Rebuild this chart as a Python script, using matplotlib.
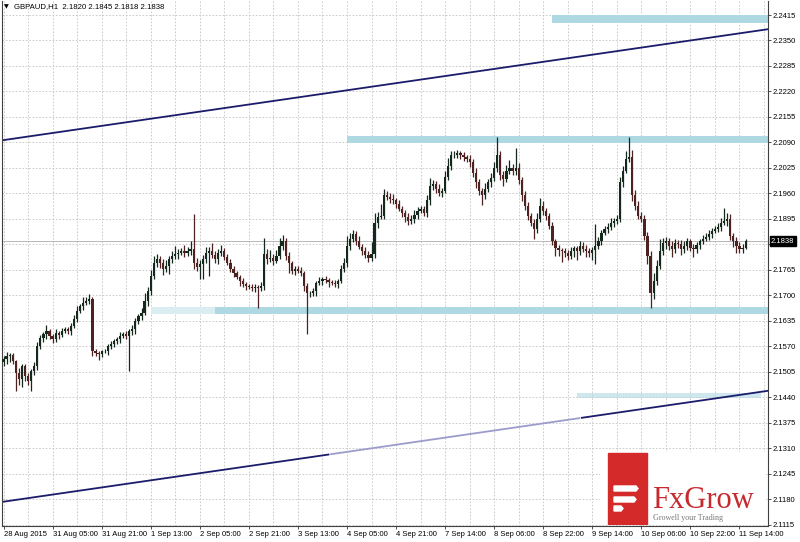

# GBPAUD H1 candlestick chart with channel and levels

import matplotlib.pyplot as plt
import matplotlib.patches as mpatches
import numpy as np

plt.rcParams['font.family'] = ['Liberation Sans', 'DejaVu Sans']

# hourly closes, 28 Aug 2015 -> 11 Sep 2015
first_open = 2.1530
closes = [
    2.1537, 2.1545, 2.1548, 2.1532, 2.1502, 2.1486, 2.1519, 2.1494, 2.1481, 2.1507,
    2.1519, 2.1570, 2.1591, 2.1601, 2.1609, 2.1596, 2.1588, 2.1604, 2.1598, 2.1609,
    2.1614, 2.1609, 2.1622, 2.1640, 2.1660, 2.1673, 2.1681, 2.1686, 2.1691, 2.1558,
    2.1553, 2.1550, 2.1558, 2.1558, 2.1570, 2.1576, 2.1583, 2.1588, 2.1596, 2.1601,
    2.1596, 2.1609, 2.1614, 2.1635, 2.1647, 2.1655, 2.1686, 2.1711, 2.1750, 2.1783,
    2.1793, 2.1783, 2.1768, 2.1775, 2.1793, 2.1801, 2.1806, 2.1809, 2.1814, 2.1809,
    2.1814, 2.1819, 2.1783, 2.1773, 2.1781, 2.1793, 2.1809, 2.1814, 2.1804, 2.1793,
    2.1809, 2.1814, 2.1799, 2.1783, 2.1768, 2.1757, 2.1747, 2.1737, 2.1729, 2.1724,
    2.1722, 2.1719, 2.1722, 2.1719, 2.1724, 2.1806, 2.1793, 2.1796, 2.1788, 2.1801,
    2.1827, 2.1839, 2.1801, 2.1783, 2.1763, 2.1768, 2.1763, 2.1757, 2.1724, 2.1706,
    2.1706, 2.1711, 2.1732, 2.1737, 2.1742, 2.1740, 2.1734, 2.1732, 2.1729, 2.1737,
    2.1768, 2.1783, 2.1827, 2.1845, 2.1857, 2.1839, 2.1824, 2.1814, 2.1804, 2.1796,
    2.1806, 2.1885, 2.1901, 2.1903, 2.1957, 2.1952, 2.1947, 2.1942, 2.1934, 2.1921,
    2.1911, 2.1901, 2.1890, 2.1896, 2.1906, 2.1916, 2.1921, 2.1911, 2.1942, 2.1980,
    2.1983, 2.1972, 2.1962, 2.1967, 2.2003, 2.2031, 2.2057, 2.2059, 2.2062, 2.2057,
    2.2052, 2.2049, 2.2039, 2.2013, 2.1988, 2.1967, 2.1955, 2.1972, 2.1988, 2.2000,
    2.2024, 2.2057, 2.2006, 2.1998, 2.2018, 2.2024, 2.2018, 2.2026, 2.1993, 2.1955,
    2.1929, 2.1903, 2.1885, 2.1870, 2.1896, 2.1929, 2.1916, 2.1903, 2.1878, 2.1839,
    2.1821, 2.1816, 2.1814, 2.1809, 2.1801, 2.1814, 2.1821, 2.1814, 2.1827, 2.1819,
    2.1814, 2.1809, 2.1816, 2.1827, 2.1839, 2.1860, 2.1870, 2.1875, 2.1885, 2.1890,
    2.1896, 2.1988, 2.2018, 2.2049, 2.2052, 2.1955, 2.1929, 2.1903, 2.1896, 2.1852,
    2.1801, 2.1706, 2.1737, 2.1775, 2.1814, 2.1834, 2.1839, 2.1827, 2.1819, 2.1834,
    2.1832, 2.1819, 2.1827, 2.1839, 2.1821, 2.1819, 2.1829, 2.1839, 2.1845, 2.1850,
    2.1857, 2.1865, 2.1870, 2.1875, 2.1885, 2.1890, 2.1896, 2.1852, 2.1839, 2.1827,
    2.1819, 2.1820, 2.1838,
]
# wick sizes above / below the body, in pips
upper_wick = [
    8, 10, 6, 5, 4, 12, 6, 5, 8, 6,
    10, 12, 8, 6, 15, 6, 5, 10, 6, 8,
    6, 5, 8, 10, 12, 6, 15, 10, 13, 5,
    6, 5, 4, 6, 5, 8, 6, 5, 10, 6,
    8, 6, 10, 8, 6, 12, 20, 10, 15, 18,
    12, 8, 10, 15, 8, 12, 20, 10, 8, 15,
    10, 20, 89, 12, 8, 10, 15, 10, 20, 8,
    10, 15, 8, 6, 10, 8, 6, 5, 8, 6,
    5, 6, 8, 5, 10, 40, 12, 20, 10, 15,
    20, 15, 8, 10, 5, 8, 6, 10, 5, 8,
    6, 8, 5, 10, 6, 8, 5, 6, 8, 5,
    10, 12, 25, 15, 10, 8, 12, 6, 10, 8,
    30, 25, 12, 30, 15, 10, 8, 12, 6, 10,
    8, 6, 10, 8, 12, 10, 8, 6, 15, 20,
    10, 8, 12, 6, 15, 20, 12, 8, 10, 6,
    8, 6, 10, 8, 12, 10, 8, 15, 10, 12,
    15, 46, 10, 12, 15, 20, 10, 51, 12, 8,
    10, 8, 6, 10, 15, 20, 12, 8, 6, 10,
    6, 8, 5, 6, 8, 10, 6, 5, 12, 8,
    10, 6, 8, 56, 10, 8, 6, 10, 12, 8,
    10, 15, 12, 20, 51, 20, 15, 12, 10, 8,
    10, 12, 20, 15, 30, 12, 10, 8, 12, 10,
    8, 10, 12, 8, 6, 10, 8, 6, 10, 8,
    10, 8, 6, 10, 12, 34, 15, 12, 8, 10,
    8, 12, 7,
]
lower_wick = [
    10, 12, 15, 8, 47, 15, 20, 12, 10, 25,
    10, 8, 6, 10, 12, 8, 10, 6, 8, 5,
    6, 8, 10, 6, 8, 5, 10, 6, 8, 12,
    8, 15, 6, 5, 10, 6, 8, 6, 10, 5,
    8, 89, 10, 12, 8, 10, 6, 12, 10, 8,
    10, 12, 15, 8, 20, 10, 8, 12, 6, 10,
    8, 10, 15, 12, 30, 40, 10, 60, 8, 10,
    12, 8, 10, 6, 8, 10, 6, 12, 8, 10,
    6, 8, 10, 51, 8, 10, 12, 8, 10, 6,
    8, 10, 12, 25, 8, 10, 6, 8, 12, 105,
    10, 8, 12, 6, 10, 8, 12, 6, 8, 10,
    6, 8, 10, 12, 8, 10, 6, 12, 8, 10,
    8, 10, 12, 6, 8, 10, 12, 8, 10, 6,
    12, 15, 10, 8, 12, 10, 6, 8, 10, 12,
    10, 12, 8, 10, 6, 8, 10, 6, 8, 10,
    10, 8, 12, 10, 15, 12, 25, 10, 8, 12,
    8, 10, 12, 20, 10, 8, 12, 10, 8, 15,
    10, 12, 8, 25, 10, 8, 10, 12, 8, 10,
    20, 15, 30, 12, 10, 8, 15, 25, 10, 8,
    15, 10, 20, 35, 8, 10, 6, 12, 8, 10,
    8, 10, 12, 6, 10, 15, 12, 8, 10, 12,
    20, 38, 15, 10, 8, 12, 15, 10, 20, 12,
    10, 15, 12, 10, 8, 20, 12, 10, 8, 6,
    8, 10, 6, 8, 10, 6, 12, 10, 15, 20,
    10, 12, 2,
]

x_labels = ['28 Aug 2015', '31 Aug 05:00', '31 Aug 21:00', '1 Sep 13:00', '2 Sep 05:00',
            '2 Sep 21:00', '3 Sep 13:00', '4 Sep 05:00', '4 Sep 21:00', '7 Sep 14:00',
            '8 Sep 06:00', '8 Sep 22:00', '9 Sep 14:00', '10 Sep 06:00', '10 Sep 22:00',
            '11 Sep 14:00']
price_ticks = [2.1115, 2.1180, 2.1245, 2.1310, 2.1375, 2.1440, 2.1505, 2.1570, 2.1635,
               2.1700, 2.1765, 2.1830, 2.1895, 2.1960, 2.2025, 2.2090, 2.2155, 2.2220,
               2.2285, 2.2350, 2.2415]
last_price = 2.1838

# drawn objects: channel lines (bar, price) and support/resistance zones
upper_channel = ([0, 249.5], [2.2096, 2.2379])
lower_channel = ([0, 249.5], [2.1174, 2.1457])
zones = [  # (start bar, low, high)
    (179, 2.2395, 2.2415),
    (112, 2.2089, 2.2107),
    (48, 2.1653, 2.1671),
]

closes = np.array(closes)
opens = np.concatenate([[first_open], closes[:-1]])
highs = np.maximum(opens, closes) + np.array(upper_wick) * 1e-4
lows = np.minimum(opens, closes) - np.array(lower_wick) * 1e-4
idx = np.arange(len(closes))
bull = closes >= opens

fig = plt.figure(figsize=(8, 5.42), dpi=100)
ax = fig.add_axes([2 / 800, 16 / 542, 766 / 800, 525 / 542])
ax.set_xlim(-0.5, 249.3)
ax.set_ylim(2.1112, 2.24507)

# zones
band = '#aed9e2'
for start, lo, hi in zones:
    ax.fill_between([start, 249.3], lo, hi, color=band, lw=0, zorder=1)
ax.fill_between([48, 69], 2.1653, 2.1671, color='white', alpha=0.55, lw=0, zorder=1.1)
ax.fill_between([187, 247], 2.1439, 2.1451, color=band, alpha=0.6, lw=0, zorder=1)

# channel lines
ax.plot(*upper_channel, color='#1b1b6b', lw=1.3, zorder=2)
lx = np.linspace(lower_channel[0][0], lower_channel[0][1], 300)
ly = np.interp(lx, *lower_channel)
fade = (lx > 106) & (lx < 188)
ax.plot(np.where(fade, np.nan, lx), ly, color='#1b1b6b', lw=1.3, zorder=2)
ax.plot(np.where(fade, lx, np.nan), ly, color='#9c9ccc', lw=1.3, zorder=2)

# current price line
ax.axhline(last_price, color='#b8b8b8', lw=0.7, zorder=1.5)

# candles
bull_c, bear_c = '#14281b', '#4f2222'
colors = np.where(bull, bull_c, bear_c)
ax.vlines(idx, lows, highs, colors=colors, lw=0.9, zorder=3)
ax.bar(idx, np.maximum(np.abs(closes - opens), 0.00012), bottom=np.minimum(opens, closes),
       width=0.72, color=colors, lw=0, zorder=3)

# axes, ticks and grid
ax.yaxis.tick_right()
ax.set_yticks(price_ticks)
ax.set_yticklabels(['' if abs(p - last_price) < 0.001 else f'{p:.4f}' for p in price_ticks])
ax.set_xticks(np.arange(0, 241, 16))
ax.set_xticklabels(x_labels)
ax.set_xticks(np.arange(8, 249, 16), minor=True)
for lab in ax.get_xticklabels():
    lab.set_ha('left')
ax.tick_params(axis='both', which='major', labelsize=5.5, length=2, width=0.6,
               color='#333333', pad=1.5)
ax.tick_params(axis='x', which='minor', length=0)
ax.grid(True, which='both', axis='x', color='#c4c4c4', ls=(0, (2, 2)), lw=0.6, zorder=0)
ax.grid(True, which='major', axis='y', color='#c4c4c4', ls=(0, (2, 2)), lw=0.6, zorder=0)
ax.set_axisbelow(True)
ax.spines['top'].set_visible(False)
for s in ['left', 'right', 'bottom']:
    ax.spines[s].set_color('#404040')
    ax.spines[s].set_linewidth(0.8)

# price label box
ax.text(1.004, last_price, f'{last_price:.4f}', transform=ax.get_yaxis_transform(),
        fontsize=5.5, color='white', va='center', ha='left', clip_on=False, zorder=5,
        bbox=dict(boxstyle='square,pad=0.2', fc='black', ec='black'))

# header
fig.text(4 / 800, 1 - 7 / 542, '▼', fontsize=4.5, va='center', family=['DejaVu Sans'])
fig.text(14 / 800, 1 - 7 / 542, 'GBPAUD,H1  2.1820 2.1845 2.1818 2.1838', fontsize=5.6,
         va='center')

# logo
lg = fig.add_axes([600 / 800, 17 / 542, 166 / 800, 73 / 542])
lg.set_xlim(600, 766)
lg.set_ylim(525, 452)
lg.axis('off')
lg.add_patch(mpatches.Rectangle((600, 452), 166, 73, color='white'))
lg.add_patch(mpatches.Rectangle((608, 453), 39, 73, color='#d42a2a'))
for x0, x1, y0 in [(614, 638, 486), (614, 636, 497), (614, 623, 506)]:
    lg.add_patch(mpatches.Polygon([(x0, y0), (x1 - 2, y0), (x1, y0 + 2.5),
                                   (x1 - 2, y0 + 5), (x0, y0 + 5)], color='white'))
lg.text(652, 508, 'FxGrow', fontsize=22, color='#c62a2f', family='Liberation Serif',
        va='baseline', ha='left')
lg.text(653, 520, 'Growell your Trading', fontsize=5.8, color='#777777',
        family='Liberation Serif', va='baseline', ha='left')

fig.savefig('out.png', dpi=100)
